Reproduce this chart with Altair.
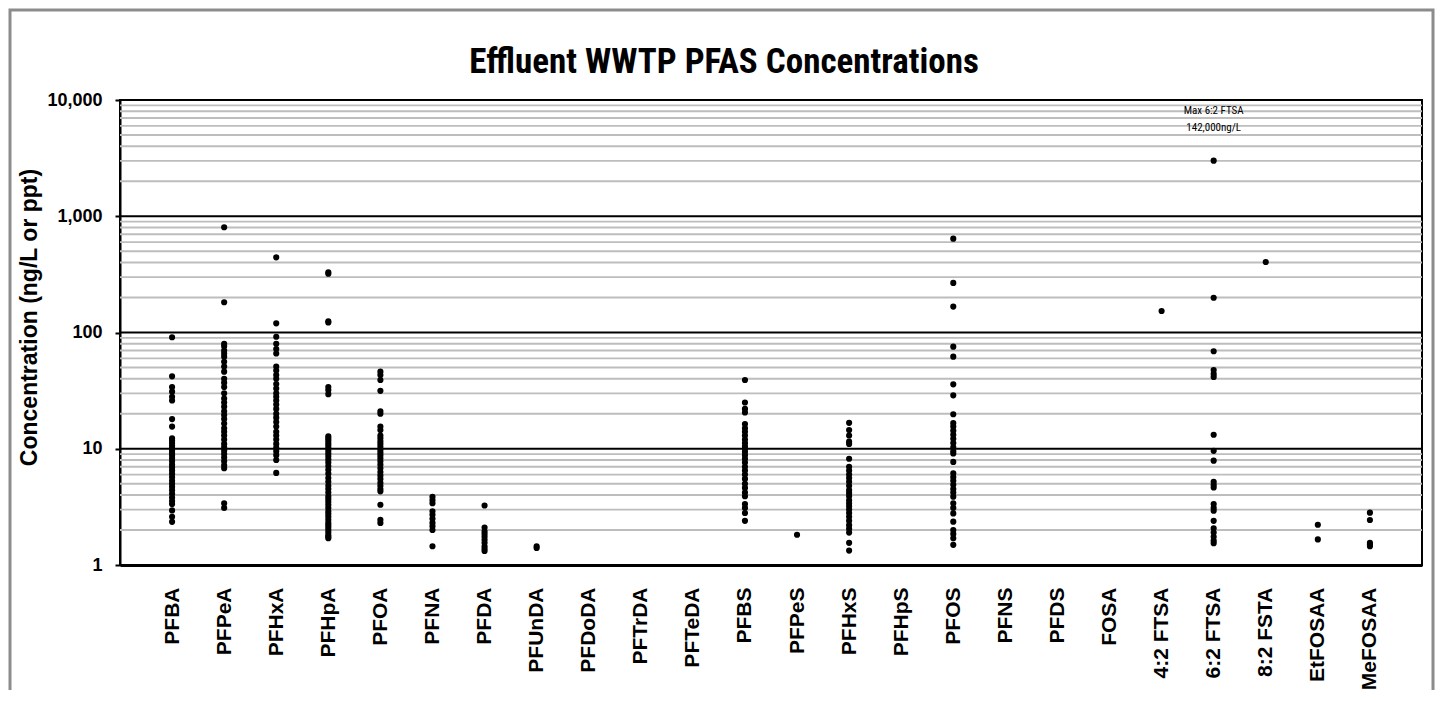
import altair as alt
import pandas as pd

categories = ["PFBA", "PFPeA", "PFHxA", "PFHpA", "PFOA", "PFNA", "PFDA", "PFUnDA",
              "PFDoDA", "PFTrDA", "PFTeDA", "PFBS", "PFPeS", "PFHxS", "PFHpS", "PFOS",
              "PFNS", "PFDS", "FOSA", "4:2 FTSA", "6:2 FTSA", "8:2 FSTA", "EtFOSAA", "MeFOSAA"]

PFBA = [91, 42, 34, 31, 28, 26, 18, 15.5, 12.3, 11.8, 11.2, 10.6, 10.1, 9.6, 9.2, 8.8, 8.3,
        7.8, 7.3, 6.9, 6.5, 6.1, 5.7, 5.3, 5.0, 4.7, 4.4, 4.1, 3.8, 3.55, 3.35, 2.95, 2.6, 2.35]
PFPeA = [804, 182, 80, 76, 70, 66, 62, 56, 51, 46, 40, 37, 34, 30, 27, 25, 23, 21, 19.5, 18,
         16.5, 15, 14, 13, 12, 11, 10.3, 9.6, 9.0, 8.4, 7.8, 7.2, 6.8, 3.4, 3.1]
PFHxA = [443, 120, 92, 80, 72, 66, 51, 47, 43, 40, 36, 33, 30, 28, 26, 24, 22, 20, 18.5, 17,
         15.5, 14, 13, 12, 11, 10.2, 9.5, 8.8, 8.0, 6.2]
PFHpA = [330, 320, 125, 122, 34, 32, 29.5, 12.8, 12.3, 11.8, 11.2, 10.7, 10.2, 9.6, 9.1, 8.6,
         8.1, 7.6, 7.1, 6.6, 6.1, 5.6, 5.2, 4.8, 4.5, 4.2, 3.9, 3.7, 3.5, 3.3, 3.1, 2.9, 2.75,
         2.6, 2.45, 2.3, 2.2, 2.1, 2.0, 1.9, 1.8, 1.75, 1.7]
PFOA = [46, 43, 39, 31.5, 21, 20, 15.5, 14.5, 13, 12.3, 11.6, 11, 10.4, 9.8, 9.3, 8.8, 8.3,
        7.8, 7.3, 6.8, 6.3, 5.9, 5.5, 5.1, 4.8, 4.5, 4.3, 3.3, 2.45, 2.3]
PFNA = [3.85, 3.6, 3.4, 2.9, 2.7, 2.5, 2.3, 2.15, 2.0, 1.45]
PFDA = [3.25, 2.1, 1.95, 1.85, 1.75, 1.65, 1.55, 1.45, 1.38, 1.32]
PFUnDA = [1.45, 1.4]
PFBS = [39, 25, 22, 20.5, 16.3, 15, 14, 13, 12, 11.2, 10.5, 10, 9.4, 8.8, 8.2, 7.6, 7.0, 6.5,
        6.0, 5.5, 5.0, 4.6, 4.2, 3.9, 3.35, 3.1, 2.8, 2.4]
PFPeS = [1.82]
PFHxS = [16.7, 14.5, 13, 11.5, 11, 8.2, 7.0, 6.5, 6.0, 5.6, 5.2, 4.8, 4.4, 4.15, 3.9, 3.6,
         3.4, 3.2, 3.0, 2.8, 2.6, 2.4, 2.2, 2.05, 1.9, 1.55, 1.33]
PFOS = [641, 267, 167, 75.5, 62, 35.8, 28.8, 19.8, 16.6, 15.5, 14.3, 13.2, 12.2, 11.2, 10.3,
        9.5, 9.1, 7.7, 6.15, 5.7, 5.3, 4.9, 4.5, 4.2, 3.87, 3.39, 3.1, 2.78, 2.36, 2.0, 1.85,
        1.7, 1.49]
FTSA_42 = [153]
FTSA_62 = [3005, 199, 69, 47.5, 44, 41.5, 13.2, 9.6, 7.9, 5.2, 4.9, 4.65, 3.35, 3.1, 2.93,
           2.4, 2.07, 1.9, 1.75, 1.62, 1.54]
FSTA_82 = [404]
EtFOSAA = [2.22, 1.66]
MeFOSAA = [2.82, 2.44, 1.55, 1.5, 1.45]

series = {
    "PFBA": PFBA, "PFPeA": PFPeA, "PFHxA": PFHxA, "PFHpA": PFHpA, "PFOA": PFOA,
    "PFNA": PFNA, "PFDA": PFDA, "PFUnDA": PFUnDA, "PFBS": PFBS, "PFPeS": PFPeS,
    "PFHxS": PFHxS, "PFOS": PFOS, "4:2 FTSA": FTSA_42, "6:2 FTSA": FTSA_62,
    "8:2 FSTA": FSTA_82, "EtFOSAA": EtFOSAA, "MeFOSAA": MeFOSAA,
}

major_ticks = [1, 10, 100, 1000, 10000]
major_grid = [10, 100, 1000, 10000]
minor_grid = [m * d for d in [1, 10, 100, 1000] for m in range(2, 10)]

annotation_lines = ["Max 6:2 FTSA", "142,000ng/L"]
annotation_y = [8090, 5780]

points = pd.DataFrame([(c, v) for c, vals in series.items() for v in vals],
                      columns=["compound", "value"])
ann = pd.DataFrame({"compound": ["6:2 FTSA"] * 2, "value": annotation_y,
                    "text": annotation_lines})

ARIAL = "Liberation Sans, Arial, sans-serif"
NARROW = "Liberation Sans Narrow, Arial Narrow, Roboto Condensed, sans-serif"

yscale = alt.Scale(type="log", domain=[1, 10000], nice=False)
xscale = alt.Scale(type="point", domain=categories, padding=1)

y_axis = alt.Axis(title="Concentration (ng/L or ppt)", values=major_ticks,
                  format=",", grid=False, tickSize=5, tickColor="black",
                  tickWidth=2, domainColor="black", domainWidth=2,
                  labelFont=ARIAL, labelFontWeight="bold", labelFontSize=18,
                  labelColor="black", labelPadding=13, titleFont=ARIAL,
                  titleFontWeight="bold", titleFontSize=23, titleColor="black",
                  titlePadding=5, titleY=217)
x_axis = alt.Axis(title=None, labelAngle=-90, labelAlign="right",
                  labelBaseline="middle", labelFont=ARIAL,
                  labelFontWeight="bold", labelFontSize=21,
                  labelColor="black", labelPadding=22, ticks=False,
                  domainColor="black", domainWidth=3, grid=False,
                  labelOverlap=False)

minor = alt.Chart(pd.DataFrame({"value": minor_grid})).mark_rule(
    color="#bdbdbd", strokeWidth=1.8
).encode(y=alt.Y("value:Q", scale=yscale, axis=y_axis))

major = alt.Chart(pd.DataFrame({"value": major_grid})).mark_rule(
    color="black", strokeWidth=2
).encode(y=alt.Y("value:Q", scale=yscale, axis=y_axis))

dots = alt.Chart(points).mark_circle(size=38, color="black", opacity=1).encode(
    x=alt.X("compound:N", scale=xscale, sort=categories, axis=x_axis),
    y=alt.Y("value:Q", scale=yscale, axis=y_axis),
)

note = alt.Chart(ann).mark_text(font=NARROW, fontSize=11, color="black").encode(
    x=alt.X("compound:N", scale=xscale, sort=categories, axis=x_axis),
    y=alt.Y("value:Q", scale=yscale, axis=y_axis),
    text="text:N",
)

frame = alt.Chart(pd.DataFrame({"k": [0]})).mark_rect(
    fillOpacity=0, stroke="#8c8c8c", strokeWidth=3
).encode(x=alt.value(-110), x2=alt.value(1313), y=alt.value(-90), y2=alt.value(640))

chart = alt.layer(minor, major, dots, note, frame).properties(
    width=1302, height=465,
    title=alt.TitleParams("Effluent WWTP PFAS Concentrations", font=NARROW,
                          fontSize=35, fontWeight="bold", color="black",
                          anchor="middle", dx=-47, offset=0, dy=71, frame="group"),
    autosize=alt.AutoSizeParams(type="none"),
    padding={"left": 112, "top": 92, "right": 15, "bottom": 125},
).configure_view(stroke="black", strokeWidth=2)

chart.save("out.html", embed_options={"renderer": "svg", "actions": False})
